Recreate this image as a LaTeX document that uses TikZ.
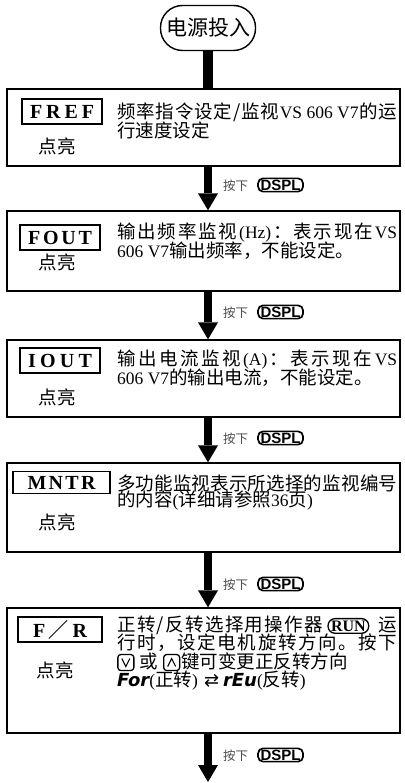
\documentclass[tikz,border=0pt]{standalone}
\usepackage{fontspec}
\usetikzlibrary{arrows.meta}
\setmainfont{Noto Sans CJK SC}
\newfontfamily\cjk{Noto Sans CJK SC}
\newfontfamily\lat{Liberation Serif}
\newfontfamily\serifb{Liberation Serif}
\newfontfamily\sansf{Liberation Sans}
\newfontfamily\dejavu{DejaVu Sans}

\def\sprEnd{\sprEndMarker}
\def\spr#1{\sprB#1\sprEnd}
\def\sprB#1{{#1}\sprA}
\def\sprA#1{\ifx\sprEnd#1\else\hfil{#1}\expandafter\sprA\fi}

\newcommand\bodyf{\cjk\fontsize{18.5}{19}\selectfont}
\newcommand\lt[1]{{\lat\fontsize{17.5}{18}\selectfont #1}}
\newcommand\segf{\dejavu\bfseries\itshape\fontsize{18}{18}\selectfont}
\newcommand\dspl{\tikz[baseline=(dk.base),x=1pt,y=1pt]\node[draw,line width=1.7pt,rounded corners=5pt,inner xsep=2.5pt,inner ysep=1.3pt,font=\sansf\bfseries\fontsize{15}{15}\selectfont](dk){DSPL};}
\newcommand\runkey{\tikz[baseline=(rk.base),x=1pt,y=1pt]\node[draw,line width=1.3pt,rounded corners=7pt,inner xsep=3pt,inner ysep=2pt,font=\serifb\bfseries\fontsize{16}{16}\selectfont](rk){RUN};}
\newcommand\vkey{\tikz[baseline=2pt,x=1pt,y=1pt]{\draw[line width=1.3pt,rounded corners=3pt](0,0) rectangle (16,16);\draw[line width=1.1pt,line join=miter](4,12)--(8,4)--(12,12);}}
\newcommand\akey{\tikz[baseline=2pt,x=1pt,y=1pt]{\draw[line width=1.3pt,rounded corners=3pt](0,0) rectangle (16,16);\draw[line width=1.1pt,line join=miter](4,4)--(8,12)--(12,4);}}
\newcommand\press{{\color{black!70}\cjk\fontsize{12.5}{14}\selectfont 按下}\hspace{9pt}\dspl}

\begin{document}
\begin{tikzpicture}[x=1pt,y=-1pt,
  mainbox/.style={draw,line width=1.3pt,inner sep=0pt},
  tagbox/.style={draw,line width=1.3pt,inner sep=0pt,minimum height=25pt,font=\serifb\bfseries\fontsize{20}{20}\selectfont},
  txt/.style={anchor=west,inner sep=0pt,font=\bodyf},
  lit/.style={inner sep=0pt,font=\cjk\fontsize{18.5}{19}\selectfont},
  lbl/.style={anchor=west,inner sep=0pt},
  flow/.style={line width=8pt,-{Triangle[width=20pt,length=17pt,line width=0pt]}}]
\useasboundingbox (0,0) rectangle (404,783);

% start
\node[draw,line width=1.4pt,rounded corners=22pt,minimum width=95pt,minimum height=45pt,inner sep=0pt,font=\cjk\fontsize{21}{21}\selectfont] (start) at (208,28) {电源投入};

% main boxes
\node[mainbox,minimum width=393pt,minimum height=77pt] (b1) at (203.5,127.5) {};
\node[mainbox,minimum width=393pt,minimum height=80pt] (b2) at (203.5,251) {};
\node[mainbox,minimum width=393pt,minimum height=77pt] (b3) at (203.5,378.5) {};
\node[mainbox,minimum width=393pt,minimum height=89pt] (b4) at (203.5,507.5) {};
\node[mainbox,minimum width=393pt,minimum height=125pt] (b5) at (203.5,670.5) {};
\coordinate (end) at (208,782);

% connectors
\draw[line width=10pt] (start.south) -- (b1.north -| start);
\draw[flow] (b1.south -| start) -- (b2.north -| start);
\draw[flow] (b2.south -| start) -- (b3.north -| start);
\draw[flow] (b3.south -| start) -- (b4.north -| start);
\draw[flow] (b4.south -| start) -- (b5.north -| start);
\draw[flow] (b5.south -| start) -- (end);

% labels
\node[lbl] (l1) at (223,185) {\press};
\node[lbl] (l2) at (223,312) {\press};
\node[lbl] (l3) at (223,438) {\press};
\node[lbl] (l4) at (223,584) {\press};
\node[lbl] (l5) at (223,755) {\press};

% tags
\node[tagbox,minimum width=80pt] (g1) at (62,111.5) {\hbox to 64pt{\spr{FREF}}};
\node[tagbox,minimum width=80pt] (g2) at (60,237.5) {\hbox to 64pt{\spr{FOUT}}};
\node[tagbox,minimum width=80pt] (g3) at (60,360.5) {\hbox to 64pt{\spr{IOUT}}};
\node[tagbox,minimum width=97pt,minimum height=22pt] (g4) at (61.5,482.5) {\hbox to 68pt{\spr{MNTR}}};
\node[tagbox,minimum width=84pt] (g5) at (60,629.5) {\hbox to 54pt{\spr{F{\cjk ／}R}}};

\node[lit] (d1) at (57,146) {点亮};
\node[lit] (d2) at (57,262) {点亮};
\node[lit] (d3) at (57,397) {点亮};
\node[lit] (d4) at (57,522) {点亮};
\node[lit] (d5) at (55,670) {点亮};

% texts
\node[txt] (t1a) at (117,112) {\hbox to 280pt{\spr{频率指令设定/监视{\lt{VS 606 V7}}的运}}};
\node[txt] (t1b) at (117,130) {行速度设定};
\node[txt] (t2a) at (117,233) {\hbox to 280pt{\spr{输出频率监视{\lt{(Hz)}}：表示现在{\lt{VS}}}}};
\node[txt] (t2b) at (117,251) {\lt{606 V7}输出频率，不能设定。};
\node[txt] (t3a) at (117,360) {\hbox to 280pt{\spr{输出电流监视{\lt{(A)}}：表示现在{\lt{VS}}}}};
\node[txt] (t3b) at (117,378) {\lt{606 V7}的输出电流，不能设定。};
\node[txt] (t4a) at (117,483) {\hbox to 280pt{\spr{多功能监视表示所选择的监视编号}}};
\node[txt] (t4b) at (117,501) {的内容\lt{(}详细请参照\lt{36}页\lt{)}};
\node[txt] (t5a) at (117,625) {\hbox to 280pt{\spr{正转/反转选择用操作器{\hspace{3pt}\runkey\hspace{8pt}}运}}};
\node[txt] (t5b) at (117,643) {\hbox to 280pt{\spr{行时，设定电机旋转方向。按下}}};
\node[txt] (t5c) at (117,662) {\vkey\hspace{5pt}或\hspace{5pt}\akey\hspace{1pt}键可变更正反转方向};
\node[txt] (t5d) at (117,681) {{\segf For}\lt{(}正转\lt{)}\hspace{6pt}{\dejavu\fontsize{18}{18}\selectfont ⇄}\hspace{4pt}{\segf rEu}\lt{(}反转\lt{)}};
\end{tikzpicture}
\end{document}
